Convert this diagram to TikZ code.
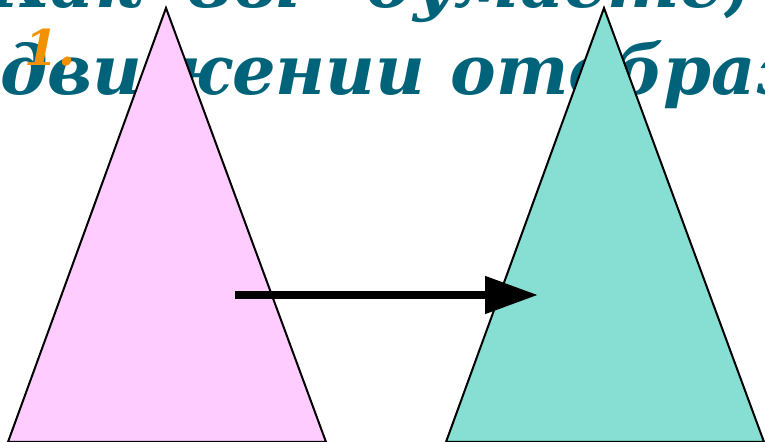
\documentclass[tikz,border=0pt]{standalone}
\usepackage{fontspec}
\newfontfamily\titlefont{DejaVu Serif}
\usetikzlibrary{arrows.meta}
\definecolor{titleteal}{RGB}{0,99,122}
\definecolor{numorange}{RGB}{243,146,0}
\definecolor{tripink}{RGB}{255,204,255}
\definecolor{triteal}{RGB}{134,223,210}
\begin{document}
\begin{tikzpicture}[
    x=0.02cm, y=-0.02cm,
    title/.style={anchor=base west, inner sep=0pt, text=titleteal, font=\titlefont\bfseries\itshape\fontsize{39}{39}\selectfont},
    tri/.style={draw=black, line width=0.04cm, line join=miter},
    arrow/.style={-{Triangle[length=1.06cm, width=0.72cm]}, line width=0.16cm, black},
]
    \useasboundingbox (0,0) rectangle (765,442);
    \clip (0,0) rectangle (765,442);
    \fill[white] (0,0) rectangle (765,442);

    % title lines, cut by the frame
    \node[title] (line1) at (-12,8) {Как\hspace{0.9cm}вы\hspace{1.3cm}думаете,};
    \node[title] (line2) at (0,95) {движении\hspace{0.5cm}отображается};
    \node[anchor=base west, inner sep=0pt, text=numorange, font=\titlefont\bfseries\itshape\fontsize{28}{28}\selectfont] (num) at (24,66) {1.};

    % the two triangles
    \draw[tri, fill=tripink] (166,8) -- (326,442) -- (8,442) -- cycle;
    \draw[tri, fill=triteal] (604,8) -- (764,442) -- (446,442) -- cycle;

    \coordinate (from) at (235,295);
    \coordinate (to) at (538,295);
    \draw[arrow] (from) -- (to);
\end{tikzpicture}
\end{document}
